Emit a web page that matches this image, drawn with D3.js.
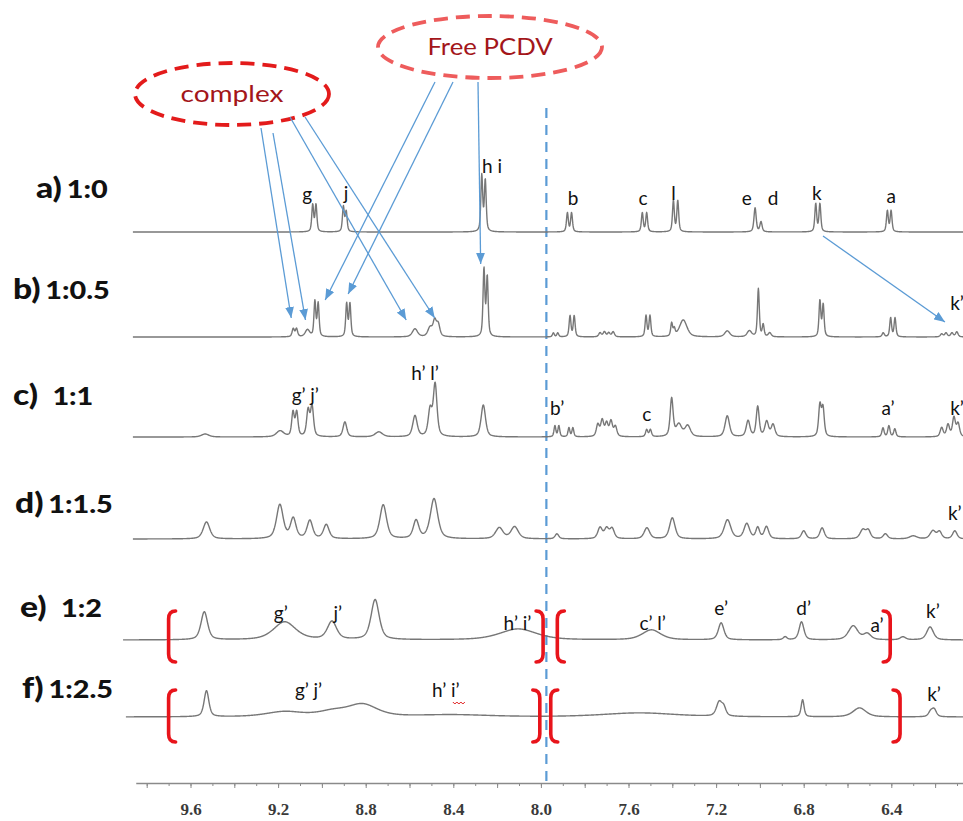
<!DOCTYPE html>
<html><head><meta charset="utf-8">
<script src="https://cdn.jsdelivr.net/npm/d3@7"></script>
<style>body{margin:0;background:#fff}</style>
</head><body>
<svg id="chart" width="963" height="821"></svg>
<script>
// ---------------- data ----------------
const rowTags   = ["a)", "b)", "c)", "d)", "e)", "f)"];
const rowRatios = ["1:0", "1:0.5", "1:1", "1:1.5", "1:2", "1:2.5"];
const tickLabels = [9.6, 9.2, 8.8, 8.4, 8.0, 7.6, 7.2, 6.8, 6.4];

// peak lists: [chemical shift (ppm), intensity, half width (ppm)]
const peaksA = [
  [9.042,27,0.005],[9.027,27,0.005],[8.902,25,0.005],[8.889,20,0.005],
  [8.270,56,0.005],[8.254,51,0.005],[7.879,19,0.005],[7.860,19,0.005],
  [7.537,19,0.005],[7.517,19,0.005],[7.395,31,0.005],[7.375,31,0.005],
  [7.022,24,0.006],[6.995,10,0.006],[6.745,28,0.005],[6.726,28,0.005],
  [6.418,21,0.005],[6.401,21,0.005]
];
const peaksB = [
  [9.131,8,0.006],[9.116,8,0.006],[9.066,7,0.012],[9.032,35,0.005],[9.017,33,0.005],
  [8.887,33,0.005],[8.872,33,0.005],[8.575,8,0.014],[8.506,9,0.012],[8.485,15,0.009],[8.469,12,0.009],
  [8.260,67,0.005],[8.245,59,0.005],[7.943,4,0.005],[7.923,4,0.005],[7.867,21,0.005],[7.848,21,0.005],
  [7.730,4,0.007],[7.710,5,0.007],[7.690,4,0.007],[7.670,5,0.007],[7.520,21,0.005],[7.502,21,0.005],
  [7.403,13,0.005],[7.391,7,0.005],[7.350,17,0.02],[7.149,6,0.014],[7.048,6,0.012],
  [7.007,48,0.005],[6.985,12,0.005],[6.955,4,0.008],[6.726,36,0.005],[6.711,32,0.005],
  [6.437,4,0.006],[6.403,19,0.005],[6.383,19,0.005],
  [6.170,3,0.007],[6.150,4,0.007],[6.123,4,0.007],[6.101,5,0.007]
];
const peaksC = [
  [9.533,3,0.02],[9.191,6,0.02],[9.132,24,0.007],[9.115,24,0.007],[9.063,26,0.008],[9.045,30,0.008],
  [8.895,15,0.01],[8.740,5,0.02],[8.575,21,0.012],[8.506,26,0.01],[8.483,52,0.01],[8.263,32,0.012],
  [7.936,11,0.005],[7.918,11,0.005],[7.872,9,0.005],[7.854,9,0.005],
  [7.740,12,0.008],[7.720,16,0.008],[7.700,13,0.008],[7.680,15,0.008],[7.660,10,0.008],
  [7.517,7,0.006],[7.500,7,0.006],[7.403,38,0.008],[7.370,12,0.015],[7.330,11,0.015],
  [7.149,21,0.012],[7.054,16,0.01],[7.010,30,0.008],[6.969,15,0.01],[6.940,12,0.01],
  [6.726,31,0.007],[6.712,28,0.007],[6.438,9,0.006],[6.411,11,0.006],[6.384,8,0.006],
  [6.170,9,0.008],[6.141,12,0.008],[6.114,19,0.008],[6.095,13,0.008]
];
const peaksD = [
  [9.527,17,0.018],[9.192,34,0.018],[9.131,20,0.015],[9.055,18,0.015],[8.980,14,0.015],
  [8.720,34,0.018],[8.570,18,0.015],[8.488,40,0.02],[8.190,11,0.02],[8.120,12,0.02],
  [7.927,5,0.01],[7.730,11,0.012],[7.700,10,0.012],[7.675,10,0.012],
  [7.516,11,0.015],[7.400,21,0.015],[7.148,19,0.018],[7.060,15,0.015],[7.010,11,0.01],[6.970,12,0.012],
  [6.800,8,0.012],[6.716,11,0.012],[6.530,9,0.015],[6.505,8,0.012],[6.427,5,0.012],[6.300,3,0.02],
  [6.210,8,0.015],[6.180,7,0.012],[6.110,8,0.012]
];
const peaksE = [
  [9.537,28,0.018],[9.170,18,0.06],[8.954,18,0.025],[8.757,40,0.022],[8.104,11,0.1],
  [7.495,10,0.05],[7.177,17,0.015],[6.885,3,0.01],[6.810,18,0.013],
  [6.574,14,0.025],[6.510,6,0.02],[6.347,3,0.015],[6.223,13,0.018]
];
const peaksF = [
  [9.527,26,0.013],[9.170,5,0.1],[8.950,5,0.08],[8.814,12,0.08],[8.400,2,0.2],[7.550,4,0.2],
  [7.186,14,0.015],[7.165,8,0.012],[6.805,17,0.008],[6.545,9,0.035],[6.220,5,0.012],[6.204,7,0.012]
];
const spectra = [peaksA, peaksB, peaksC, peaksD, peaksE, peaksF];

// peak assignment labels: [text, ppm]
const labelsA = [["g",9.067],["j",8.89],["h i",8.223],["b",7.853],["c",7.534],["l",7.394],["e",7.06],["d",6.94],["k",6.74],["a",6.40]];
const labelsB = [["k’",6.10]];
const labelsC = [["g’ j’",9.076],["h’ l’",8.529],["b’",7.926],["c",7.516],["a’",6.415],["k’",6.10]];
const labelsD = [["k’",6.11]];
const labelsE = [["g’",9.188],["j’",8.927],["h’ i’",8.107],["c’ l’",7.49],["e’",7.177],["d’",6.80],["a’",6.465],["k’",6.21]];
const labelsF = [["g’ j’",9.061],["h’ i’",8.434],["k’",6.205]];

// ---------------- layout ----------------
const svg = d3.select("#chart");
const x = d3.scaleLinear().domain([9.6, 6.4]).range([190.5, 891.3]);
const baselines = [232, 337, 437, 539, 640, 717];
const startPpm = [9.863, 9.863, 9.863, 9.863, 9.908, 9.895];
const endPpm = 6.07;
const yFor = i => d3.scaleLinear().domain([0, 100]).range([baselines[i], baselines[i] - 100]);

function shape(p, peaks) {
  let s = 0;
  for (const [c, h, w] of peaks) {
    const t = (p - c) / w, t2 = t * t;
    if (t2 > 4000) continue;
    s += h * (0.55 / (1 + t2) + 0.45 * Math.exp(-0.693 * t2));
  }
  return s;
}

const labFont = "Lato, 'Open Sans', sans-serif";

// blue dashed guide line
svg.append("line")
  .attr("x1", x(7.975)).attr("x2", x(7.975))
  .attr("y1", 108).attr("y2", 783)
  .attr("stroke", "#5b9bd5").attr("stroke-width", 2.2)
  .attr("stroke-dasharray", "10 7");

// spectra
spectra.forEach((peaks, i) => {
  const y = yFor(i);
  const pts = d3.range(startPpm[i], endPpm, -0.0015).map(p => [p, shape(p, peaks)]);
  svg.append("path")
    .attr("d", d3.line().x(d => x(d[0])).y(d => y(d[1]))(pts))
    .attr("fill", "none").attr("stroke", "#777").attr("stroke-width", 1.4)
    .attr("stroke-linejoin", "round");
});

// peak labels (lift above baseline in px)
const labelSets = [
  [labelsA, [31,32,59,27,27,32,27,27,32,29]],
  [labelsB, [27]],
  [labelsC, [35,57,22,16,22,22]],
  [labelsD, [19]],
  [labelsE, [20,20,10,10,25,25,8,22]],
  [labelsF, [20,20,16]]
];
labelSets.forEach(([labs, lifts], i) => {
  labs.forEach(([t, p], k) => {
    svg.append("text")
      .attr("x", x(p)).attr("y", baselines[i] - lifts[k])
      .attr("text-anchor", "middle")
      .style("font-family", labFont).attr("font-size", 19)
      .attr("fill", "#111").text(t);
  });
});
// red wavy underline (spell-check mark) under i’ in row f
{
  const cx = x(8.434) + 13, yy = baselines[5] - 20 + 5;
  let d = `M${cx - 6},${yy}`;
  for (let k = 0; k < 6; k++) d += ` l2,${k % 2 ? -2 : 2}`;
  svg.append("path").attr("d", d).attr("fill", "none").attr("stroke", "#e02020").attr("stroke-width", 1);
}

// row labels
const rowLabelPos = [[36,198],[13,299],[13,405],[15,513],[20,617],[22,698]];
rowTags.forEach((t, i) => {
  const txt = svg.append("text")
    .attr("transform", `translate(${rowLabelPos[i][0]},${rowLabelPos[i][1]}) scale(1.2,1)`)
    .style("font-family", labFont).attr("font-weight", "900").attr("fill", "#111");
  txt.append("tspan").attr("font-size", 28).text(t);
  txt.append("tspan").attr("font-size", 24).attr("dx", (i === 2 || i === 4) ? 12 : 4).text(rowRatios[i]);
});

// red brackets
const bracketSets = [
  [4, [9.70, 7.99, 7.925, 6.405], [-29, 22]],
  [5, [9.70, 8.005, 7.955, 6.36], [-27, 25]]
];
bracketSets.forEach(([row, ppms, [top, bot]]) => {
  ppms.forEach((p, k) => {
    const open = k % 2 === 0;
    const bx = x(p), y0 = baselines[row] + top, y1 = baselines[row] + bot;
    const dir = open ? 1 : -1, hook = 7 * dir;
    svg.append("path")
      .attr("d", `M${bx + hook},${y0} Q${bx},${y0} ${bx},${y0 + 8} L${bx},${y1 - 8} Q${bx},${y1} ${bx + hook},${y1}`)
      .attr("fill", "none").attr("stroke", "#e8141b").attr("stroke-width", 3.6)
      .attr("stroke-linecap", "round");
  });
});

// annotation ellipses
const ell = [
  {cx: 232, cy: 94, rx: 97, ry: 31, stroke: "#e31b1b", text: "complex", s: 1.22},
  {cx: 490, cy: 47, rx: 112, ry: 31, stroke: "#ee5c5c", text: "Free PCDV", s: 1.12}
];
ell.forEach(e => {
  svg.append("ellipse").attr("cx", e.cx).attr("cy", e.cy).attr("rx", e.rx).attr("ry", e.ry)
    .attr("fill", "none").attr("stroke", e.stroke).attr("stroke-width", 3.8)
    .attr("stroke-dasharray", "14 8");
  svg.append("text").attr("transform", `translate(${e.cx},${e.cy + 8}) scale(${e.s},1)`)
    .attr("text-anchor", "middle").style("font-family", labFont).attr("font-size", 23)
    .attr("fill", "#a3161a").text(e.text);
});

// arrows
const defs = svg.append("defs");
defs.append("marker").attr("id", "ah").attr("viewBox", "0 0 10 8")
  .attr("refX", 10).attr("refY", 4).attr("markerWidth", 11).attr("markerHeight", 9)
  .attr("markerUnits", "userSpaceOnUse").attr("orient", "auto")
  .append("path").attr("d", "M0,0 L10,4 L0,8 Z").attr("fill", "#5b9bd5");
// [startX, startY, target ppm, target row, lift]
const arrows = [
  [261,128,9.14,1,19],[273,133,9.075,1,17],[290,117,8.615,1,17],[305,117,8.485,1,19],
  [435,82,8.985,1,37],[453,82,8.88,1,43],[478,82,8.275,1,73],[823,236,6.155,1,15]
];
arrows.forEach(([sx, sy, p, r, lift]) => {
  svg.append("line").attr("x1", sx).attr("y1", sy)
    .attr("x2", x(p)).attr("y2", baselines[r] - lift)
    .attr("stroke", "#5b9bd5").attr("stroke-width", 1.3)
    .attr("marker-end", "url(#ah)");
});

// x axis
const axisY = 783;
const xa = x.copy().domain([9.85, 6.07]).range([x(9.85), x(6.07)]);
const minorT = d3.range(98, 60, -1).map(v => v / 10);
const majorT = d3.range(98, 60, -2).map(v => v / 10);
const ga = svg.append("g").attr("transform", `translate(0,${axisY})`);
ga.append("g").call(d3.axisBottom(xa).tickValues(minorT).tickSize(3).tickSizeOuter(0).tickFormat(""))
  .call(g => g.select(".domain").attr("stroke", "#8a8a8a").attr("stroke-width", 1.6))
  .call(g => g.selectAll(".tick line").attr("stroke", "#8a8a8a"));
ga.append("g").call(d3.axisBottom(xa).tickValues(majorT).tickSize(5).tickSizeOuter(0).tickPadding(15)
    .tickFormat(v => tickLabels.some(t => Math.abs(t - v) < 1e-6) ? d3.format(".1f")(v) : ""))
  .call(g => g.select(".domain").remove())
  .call(g => g.selectAll(".tick line").attr("stroke", "#8a8a8a"))
  .call(g => g.selectAll(".tick text")
    .style("font-family", "'Liberation Serif', 'DejaVu Serif', serif")
    .style("font-size", "17px").style("font-weight", "bold").attr("fill", "#3a3a3a"));
</script>
</body></html>
